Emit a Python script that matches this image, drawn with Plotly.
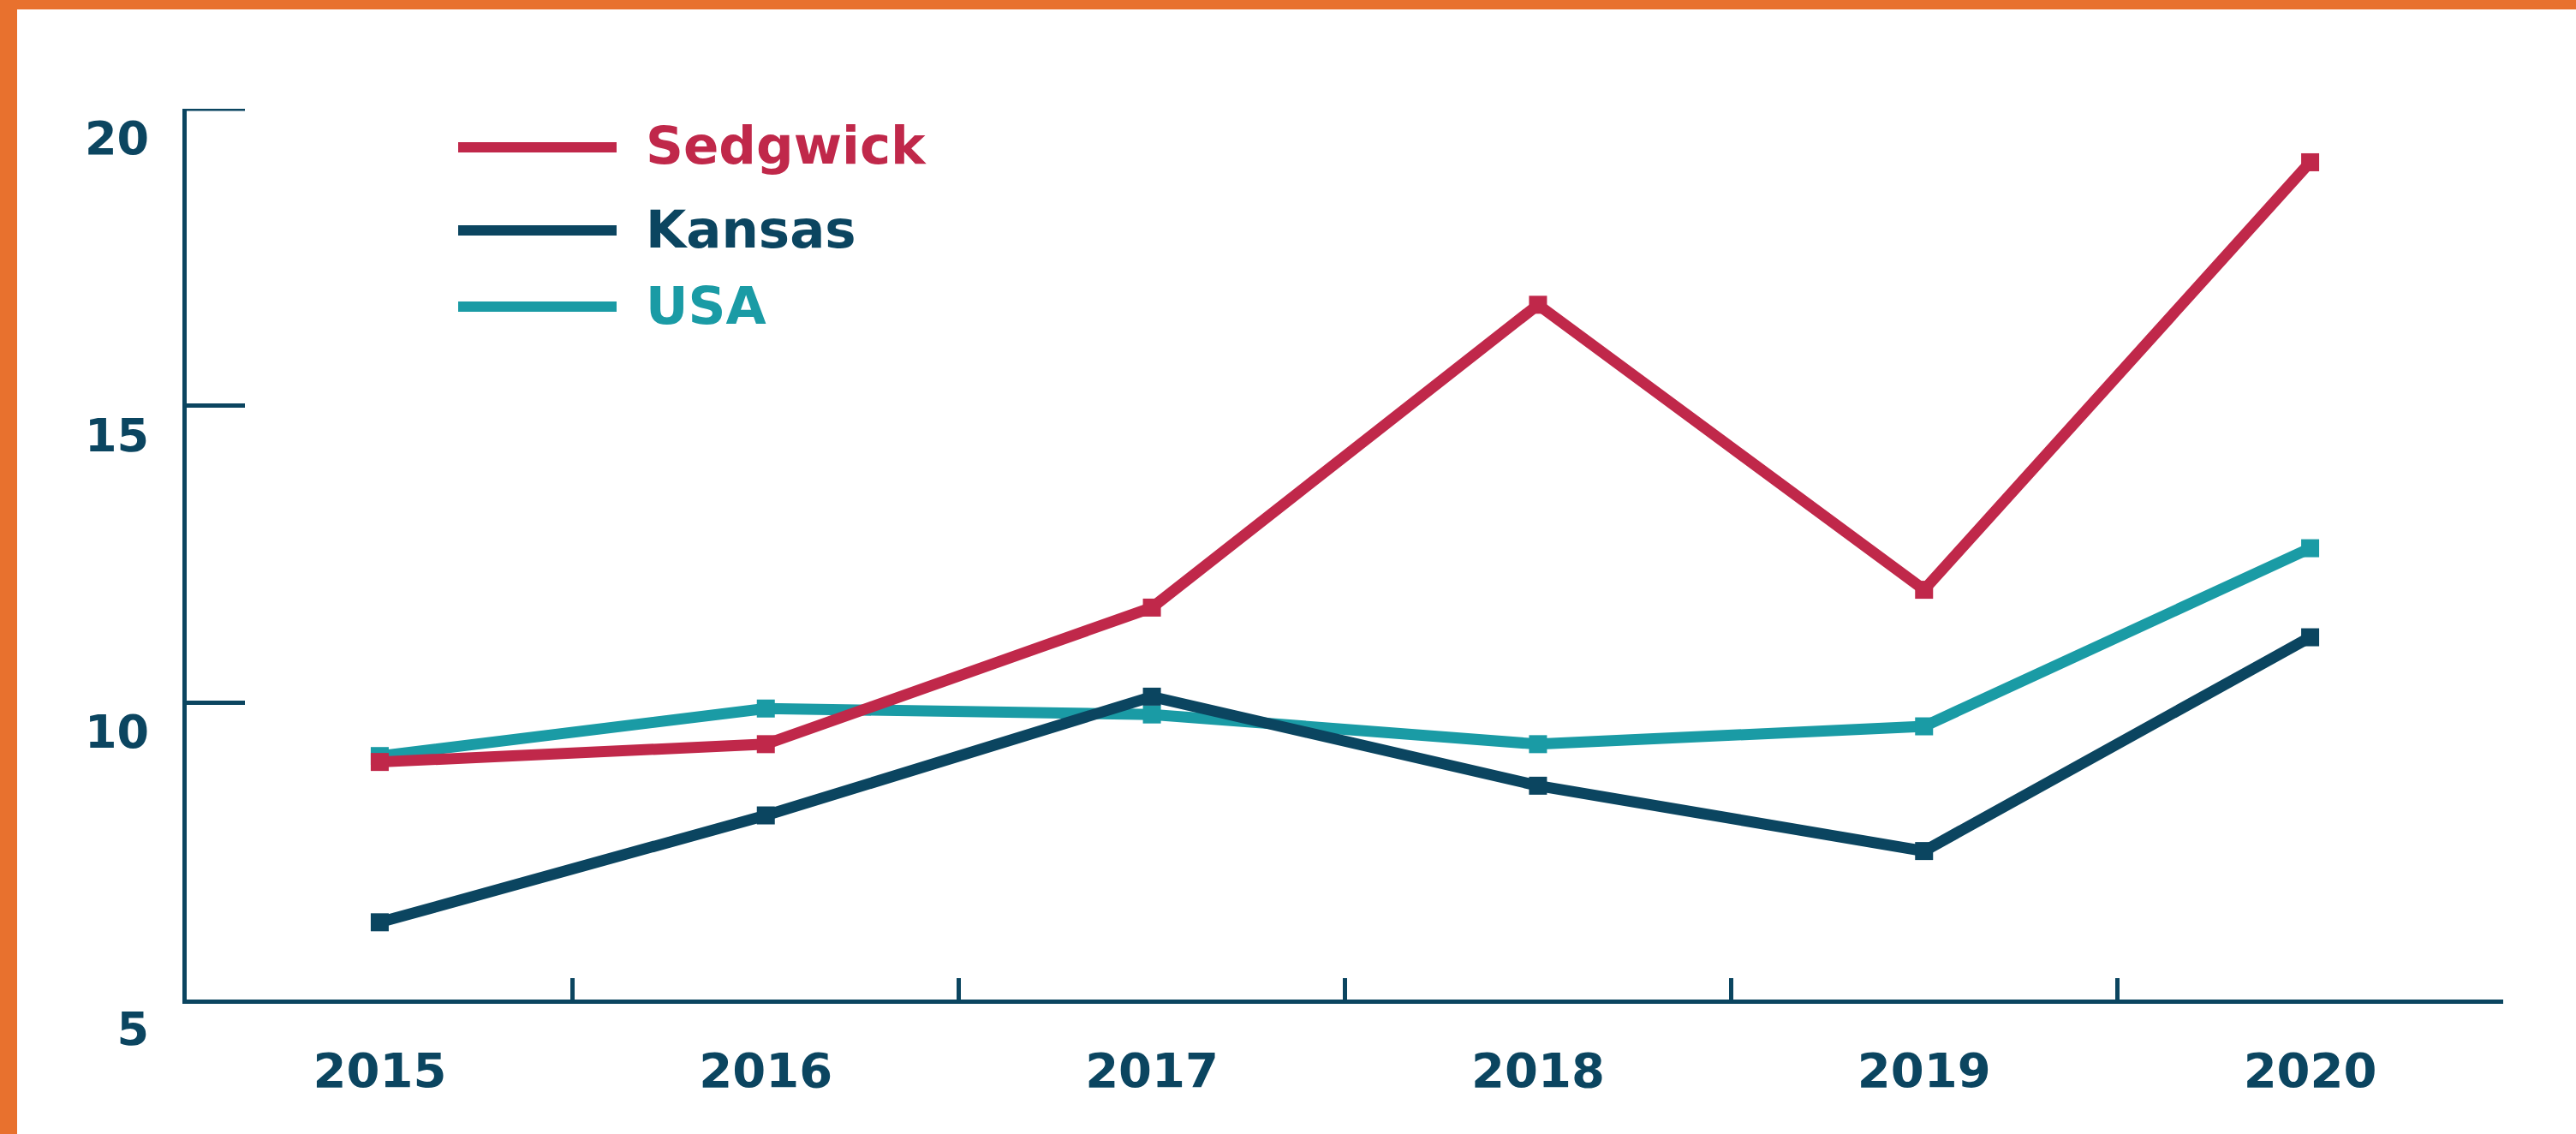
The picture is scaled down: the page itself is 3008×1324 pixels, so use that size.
import plotly.graph_objects as go

# ---- data ----
years = ["2015", "2016", "2017", "2018", "2019", "2020"]
sedgwick = [9.0, 9.3, 11.6, 16.7, 11.9, 19.1]
kansas = [6.3, 8.1, 10.1, 8.6, 7.5, 11.1]
usa = [9.1, 9.9, 9.8, 9.3, 9.6, 12.6]
y_ticks = [5, 10, 15, 20]

series_names = ["USA", "Kansas", "Sedgwick"]
series_values = [usa, kansas, sedgwick]

# ---- style ----
NAVY = "#0B4560"
RED = "#C0284A"
TEAL = "#1A9BA5"
ORANGE = "#E8712E"
colors = {"Sedgwick": RED, "Kansas": NAVY, "USA": TEAL}
FONT = "DejaVu Sans"

W, H = 3008, 1324
L, R, T, B = 218, 2923, 127, 1167
Y_TICKLEN = 68


def px(x):
    return (x - L) / (R - L)


def py(y):
    return (B - y) / (B - T)


fig = go.Figure()
for name, vals in zip(series_names, series_values):
    fig.add_trace(go.Scatter(
        x=years, y=vals, mode="lines+markers", name=name,
        line=dict(color=colors[name], width=13),
        marker=dict(symbol="square", size=21, color=colors[name], line=dict(width=0)),
        cliponaxis=False, showlegend=False,
    ))

shapes = [
    # orange frame (top and left)
    dict(type="rect", xref="paper", yref="paper", x0=px(0), x1=px(W), y0=py(0), y1=py(11),
         fillcolor=ORANGE, line=dict(width=0), layer="above"),
    dict(type="rect", xref="paper", yref="paper", x0=px(0), x1=px(20), y0=py(0), y1=py(H),
         fillcolor=ORANGE, line=dict(width=0), layer="above"),
    # top y tick (at the top end of the axis range)
    dict(type="line", xref="paper", yref="y", x0=px(L - 2.5), x1=px(L + Y_TICKLEN),
         y0=max(y_ticks), y1=max(y_ticks), line=dict(color=NAVY, width=5)),
]
annotations = []
legend_rows = [("Sedgwick", 172), ("Kansas", 269), ("USA", 358)]
for name, yy in legend_rows:
    shapes.append(dict(type="line", xref="paper", yref="paper", x0=px(535), x1=px(720),
                       y0=py(yy), y1=py(yy), line=dict(color=colors[name], width=12)))
    annotations.append(dict(xref="paper", yref="paper", x=px(752), y=py(yy - 2), text=name,
                            showarrow=False, xanchor="left", yanchor="middle",
                            font=dict(family=FONT, size=61, color=colors[name], weight="bold")))

fig.update_layout(
    width=W, height=H, autosize=False,
    margin=dict(l=L, r=W - R, t=T, b=H - B, pad=0),
    paper_bgcolor="white", plot_bgcolor="white",
    shapes=shapes, annotations=annotations,
    showlegend=False,
)
fig.update_xaxes(
    type="category", range=[-0.5, 5.5], tickson="boundaries",
    showline=True, linecolor=NAVY, linewidth=5, mirror=False,
    ticks="inside", ticklen=25, tickwidth=5, tickcolor=NAVY,
    showgrid=False, zeroline=False,
    tickfont=dict(family=FONT, size=56, color=NAVY, weight="bold"),
    ticklabelstandoff=30,
)
fig.update_yaxes(
    range=[4.999, 20.001], tickvals=y_ticks, ticktext=[str(v) for v in y_ticks],
    showline=True, linecolor=NAVY, linewidth=5,
    ticks="inside", ticklen=Y_TICKLEN, tickwidth=5, tickcolor=NAVY,
    showgrid=False, zeroline=False,
    tickfont=dict(family=FONT, size=54, color=NAVY, weight="bold"),
    ticklabelstandoff=28, ticklabelshift=34,
)

fig.write_html(
    "out.html",
    config={"displayModeBar": False},
    post_script="document.body.style.margin='0';document.body.style.overflow='hidden';",
)
